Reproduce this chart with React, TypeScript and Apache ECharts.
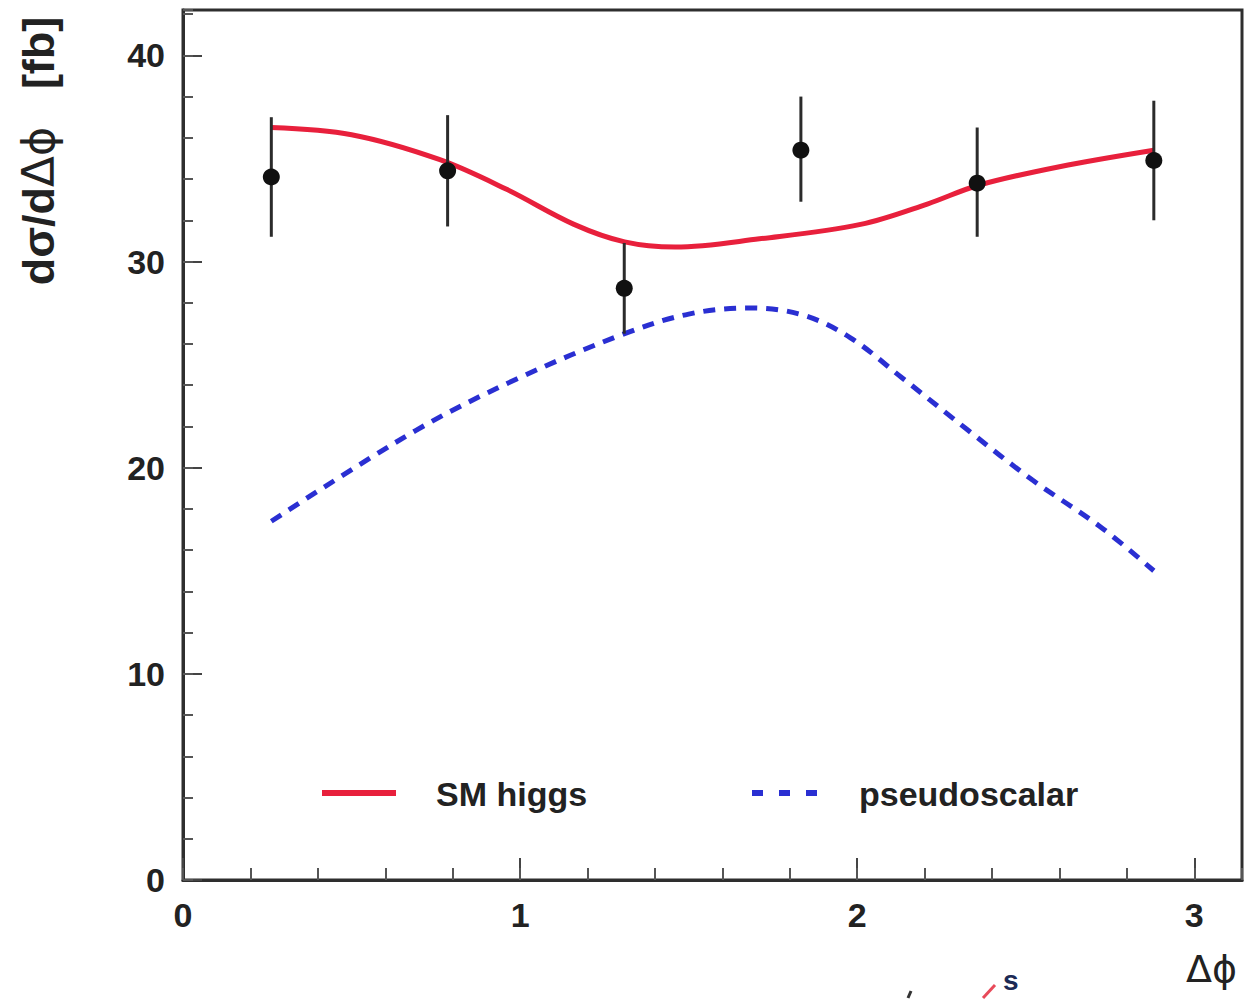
import React, { useEffect, useRef } from "react";
import * as echarts from "echarts";

// Bin centres of the measured Δφ distribution (six bins of π/6)
const binCenters = [0.262, 0.785, 1.309, 1.833, 2.356, 2.88];
const measured = [34.1, 34.4, 28.7, 35.4, 33.8, 34.9];
const errLow = [31.2, 31.7, 26.5, 32.9, 31.2, 32.0];
const errHigh = [37.0, 37.1, 30.9, 38.0, 36.5, 37.8];

// SM higgs curve
const smX = [0.262, 0.5, 0.76, 0.96, 1.16, 1.31, 1.46, 1.71, 2.01, 2.21, 2.36, 2.6, 2.88];
const smY = [36.5, 36.15, 34.95, 33.5, 31.8, 30.95, 30.7, 31.1, 31.8, 32.8, 33.7, 34.6, 35.4];

// Pseudoscalar curve
const psX = [0.262, 0.69, 0.99, 1.31, 1.5, 1.68, 1.84, 1.98, 2.13, 2.33, 2.52, 2.72, 2.88];
const psY = [17.4, 21.8, 24.3, 26.5, 27.45, 27.75, 27.4, 26.3, 24.4, 21.8, 19.4, 17.15, 15.0];

const seriesNames = ["SM higgs", "pseudoscalar"];
const seriesColors = ["#e8203c", "#2a2fd2"];
const xTickLabels = ["0", "1", "2", "3"];
const yTickLabels = ["0", "10", "20", "30", "40"];

const X_MAX = Math.PI;
const Y_MAX = 42.2;

const FONT = "'Liberation Sans', Arial, Helvetica, sans-serif";
const AXIS_COLOR = "#2e2e2e";

export default function App() {
  const ref = useRef<HTMLDivElement | null>(null);

  useEffect(() => {
    if (!ref.current) return;
    const chart = echarts.init(ref.current, null, { renderer: "svg" });

    const tickLabelStyle = {
      fontSize: 34,
      fontWeight: "bold" as const,
      color: "#222",
      fontFamily: FONT,
    };

    const xFormatter = (v: number) => {
      const s = String(Math.round(v));
      return Math.abs(v - Math.round(v)) < 1e-9 && xTickLabels.includes(s) ? s : "";
    };
    const yFormatter = (v: number) => {
      const s = String(Math.round(v));
      return Math.abs(v - Math.round(v)) < 1e-9 && yTickLabels.includes(s) ? s : "";
    };

    const option: any = {
      animation: false,
      backgroundColor: "#ffffff",
      grid: {
        left: 183,
        right: 4,
        top: 10,
        bottom: 119,
        show: true,
        borderColor: AXIS_COLOR,
        borderWidth: 3,
        backgroundColor: "transparent",
      },
      xAxis: [
        {
          type: "value",
          min: 0,
          max: X_MAX,
          interval: 1,
          position: "bottom",
          axisLine: { show: true, onZero: false, lineStyle: { color: AXIS_COLOR, width: 3 } },
          axisTick: { show: true, inside: true, length: 22, lineStyle: { color: "#444", width: 2 } },
          axisLabel: { ...tickLabelStyle, margin: 18, formatter: xFormatter, showMaxLabel: false },
          splitLine: { show: false },
        },
        {
          type: "value",
          min: 0,
          max: X_MAX,
          interval: 0.2,
          position: "bottom",
          axisLine: { show: false, onZero: false },
          axisTick: { show: true, inside: true, length: 12, lineStyle: { color: "#555", width: 2 } },
          axisLabel: { show: false },
          splitLine: { show: false },
        },
      ],
      yAxis: [
        {
          type: "value",
          min: 0,
          max: Y_MAX,
          interval: 10,
          position: "left",
          axisLine: { show: true, onZero: false, lineStyle: { color: AXIS_COLOR, width: 3 } },
          axisTick: { show: true, inside: true, length: 19, lineStyle: { color: "#444", width: 2 } },
          axisLabel: { ...tickLabelStyle, margin: 18, formatter: yFormatter, showMaxLabel: false },
          splitLine: { show: false },
        },
        {
          type: "value",
          min: 0,
          max: Y_MAX,
          interval: 2,
          position: "left",
          axisLine: { show: false, onZero: false },
          axisTick: { show: true, inside: true, length: 10, lineStyle: { color: "#555", width: 2 } },
          axisLabel: { show: false },
          splitLine: { show: false },
        },
      ],
      series: [
        {
          name: seriesNames[0],
          type: "line",
          xAxisIndex: 0,
          yAxisIndex: 0,
          data: smX.map((x, i) => [x, smY[i]]),
          smooth: 0.35,
          symbol: "none",
          lineStyle: { color: seriesColors[0], width: 5 },
          itemStyle: { color: seriesColors[0] },
          z: 3,
        },
        {
          name: seriesNames[1],
          type: "line",
          xAxisIndex: 0,
          yAxisIndex: 0,
          data: psX.map((x, i) => [x, psY[i]]),
          smooth: 0.35,
          symbol: "none",
          lineStyle: { color: seriesColors[1], width: 5, type: [12, 9] },
          itemStyle: { color: seriesColors[1] },
          z: 3,
        },
        {
          name: "data",
          type: "custom",
          xAxisIndex: 0,
          yAxisIndex: 0,
          data: binCenters.map((x, i) => [x, measured[i], errLow[i], errHigh[i]]),
          encode: { x: 0, y: 1 },
          z: 4,
          renderItem: (params: any, api: any) => {
            const x = api.value(0);
            const p = api.coord([x, api.value(1)]);
            const lo = api.coord([x, api.value(2)]);
            const hi = api.coord([x, api.value(3)]);
            return {
              type: "group",
              children: [
                {
                  type: "line",
                  shape: { x1: lo[0], y1: lo[1], x2: hi[0], y2: hi[1] },
                  style: { stroke: "#2b2b2b", lineWidth: 3 },
                },
                {
                  type: "circle",
                  shape: { cx: p[0], cy: p[1], r: 8.5 },
                  style: { fill: "#111111" },
                },
              ],
            };
          },
        },
      ],
      graphic: [
        // legend (drawn by hand, in the frame's lower part)
        {
          type: "line",
          shape: { x1: 322, y1: 793, x2: 396, y2: 793 },
          style: { stroke: seriesColors[0], lineWidth: 6 },
        },
        {
          type: "text",
          x: 436,
          y: 794,
          style: {
            text: seriesNames[0],
            fontSize: 34,
            fontWeight: "bold",
            fontFamily: FONT,
            fill: "#222",
            verticalAlign: "middle",
          },
        },
        {
          type: "line",
          shape: { x1: 752, y1: 793, x2: 818, y2: 793 },
          style: { stroke: seriesColors[1], lineWidth: 6, lineDash: [11, 16] },
        },
        {
          type: "text",
          x: 859,
          y: 794,
          style: {
            text: seriesNames[1],
            fontSize: 34,
            fontWeight: "bold",
            fontFamily: FONT,
            fill: "#222",
            verticalAlign: "middle",
          },
        },
        // y-axis title
        {
          type: "text",
          x: 38,
          y: 151,
          rotation: Math.PI / 2,
          style: {
            text: "{b|dσ/d}{n|Δϕ}{b|   [fb]}",
            align: "center",
            verticalAlign: "middle",
            fill: "#222",
            rich: {
              b: { fontSize: 45, fontWeight: "bold", fontFamily: FONT, fill: "#222" },
              n: { fontSize: 45, fontWeight: "normal", fontFamily: "'DejaVu Sans', sans-serif", fill: "#222" },
            },
          },
        },
        // x-axis title
        {
          type: "text",
          x: 1186,
          y: 950,
          style: {
            text: "Δϕ",
            fontSize: 38,
            fontFamily: "'DejaVu Sans', sans-serif",
            fill: "#222",
          },
        },
        // clipped fragment at the bottom edge
        {
          type: "text",
          x: 1003,
          y: 966,
          style: {
            text: "s",
            fontSize: 28,
            fontWeight: "bold",
            fontFamily: FONT,
            fill: "#1c2a55",
          },
        },
        {
          type: "line",
          shape: { x1: 983, y1: 998, x2: 995, y2: 985 },
          style: { stroke: "#e84a5a", lineWidth: 3 },
        },
        {
          type: "line",
          shape: { x1: 908, y1: 998, x2: 911, y2: 991 },
          style: { stroke: "#333", lineWidth: 3 },
        },
      ],
    };

    chart.setOption(option);
    return () => {
      chart.dispose();
    };
  }, []);

  return (
    <div
      ref={ref}
      style={{ position: "fixed", left: 0, top: 0, width: 1246, height: 999, background: "#fff" }}
    />
  );
}
